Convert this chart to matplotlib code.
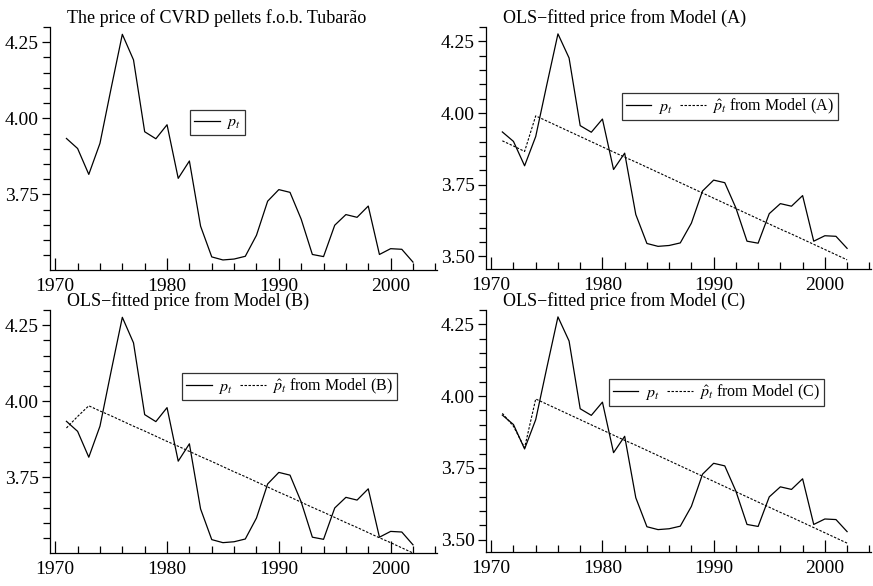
import numpy as np
import matplotlib
matplotlib.use("Agg")
import matplotlib.pyplot as plt
from matplotlib.ticker import MultipleLocator

plt.rcParams['font.family'] = ['Liberation Serif', 'DejaVu Serif']
plt.rcParams['mathtext.fontset'] = 'stix'

years = list(range(1971, 2003))

# log price of CVRD pellets
price = [3.934, 3.901, 3.816, 3.918, 4.099, 4.276, 4.192, 3.956,
         3.933, 3.979, 3.803, 3.860, 3.646, 3.545, 3.535, 3.538,
         3.547, 3.616, 3.728, 3.766, 3.757, 3.669, 3.553, 3.546,
         3.649, 3.684, 3.675, 3.712, 3.553, 3.572, 3.570, 3.528]

fit_a = [3.903, 3.885, 3.866, 3.990, 3.972, 3.954, 3.936, 3.918,
         3.900, 3.882, 3.864, 3.846, 3.829, 3.811, 3.793, 3.775,
         3.757, 3.739, 3.721, 3.703, 3.685, 3.667, 3.649, 3.631,
         3.613, 3.595, 3.578, 3.560, 3.542, 3.524, 3.506, 3.488]

fit_b = [3.912, 3.950, 3.985, 3.968, 3.952, 3.935, 3.918, 3.902,
         3.885, 3.868, 3.852, 3.835, 3.818, 3.802, 3.785, 3.768,
         3.752, 3.735, 3.718, 3.701, 3.685, 3.668, 3.651, 3.635,
         3.618, 3.601, 3.585, 3.568, 3.551, 3.535, 3.518, 3.501]

fit_c = [3.940, 3.895, 3.820, 3.990, 3.972, 3.954, 3.936, 3.918,
         3.900, 3.882, 3.864, 3.846, 3.829, 3.811, 3.793, 3.775,
         3.757, 3.739, 3.721, 3.703, 3.685, 3.667, 3.649, 3.631,
         3.613, 3.595, 3.578, 3.560, 3.542, 3.524, 3.506, 3.488]

titles = ["The price of CVRD pellets f.o.b. Tubar\u00e3o",
          "OLS\u2212fitted price from Model (A)",
          "OLS\u2212fitted price from Model (B)",
          "OLS\u2212fitted price from Model (C)"]
fits = [None, fit_a, fit_b, fit_c]
models = [None, "A", "B", "C"]

W, H = 873, 586
# axes rectangles in pixels: left, top, right, bottom
rects = [(50, 27, 437, 270), (486, 27, 871, 269),
         (50, 310, 437, 553), (486, 310, 871, 552)]
ylows = [3.502, 3.456, 3.501, 3.457]
legpos = [(0.362, 0.658), (0.353, 0.727), (0.341, 0.741), (0.319, 0.715)]

fig = plt.figure(figsize=(W / 100, H / 100), dpi=100)

for i in range(4):
    l, t, r, b = rects[i]
    ax = fig.add_axes([l / W, 1 - b / H, (r - l) / W, (b - t) / H])
    ax.plot(years, price, color='black', lw=0.9, label=r'$p_t$')
    if fits[i] is not None:
        ax.plot(years, fits[i], color='black', lw=0.8, ls=(0, (2.2, 1.4)),
                label=r'$\hat{p}_t$' + ' from Model (%s)' % models[i])
    ax.set_xlim(1969.53, 2004.15)
    ax.set_ylim(ylows[i], 4.30)
    ax.spines['top'].set_visible(False)
    ax.spines['right'].set_visible(False)
    for s in ['left', 'bottom']:
        ax.spines[s].set_linewidth(0.9)
    ax.xaxis.set_major_locator(MultipleLocator(10))
    ax.xaxis.set_minor_locator(MultipleLocator(2))
    ax.yaxis.set_major_locator(MultipleLocator(0.25))
    ax.yaxis.set_minor_locator(MultipleLocator(0.05))
    ax.yaxis.set_major_formatter(matplotlib.ticker.FormatStrFormatter('%.2f'))
    ax.tick_params(axis='x', which='major', direction='in', length=9, width=0.9,
                   labelsize=14, pad=6)
    ax.tick_params(axis='x', which='minor', direction='in', length=5, width=0.9)
    ax.tick_params(axis='y', which='major', direction='out', length=6, width=0.9,
                   labelsize=14, pad=2)
    ax.tick_params(axis='y', which='minor', direction='out', length=5, width=0.9)
    ax.text(0.045, 1.0, titles[i], transform=ax.transAxes, fontsize=13,
            ha='left', va='bottom')
    leg = ax.legend(loc='upper left', bbox_to_anchor=legpos[i], borderaxespad=0,
                    ncol=2, fontsize=11.5, frameon=True, fancybox=False,
                    handlelength=1.6, handletextpad=0.4, columnspacing=0.5,
                    borderpad=0.25)
    leg.get_frame().set_edgecolor('black')
    leg.get_frame().set_linewidth(0.9)

fig.savefig("out.png", dpi=100)
